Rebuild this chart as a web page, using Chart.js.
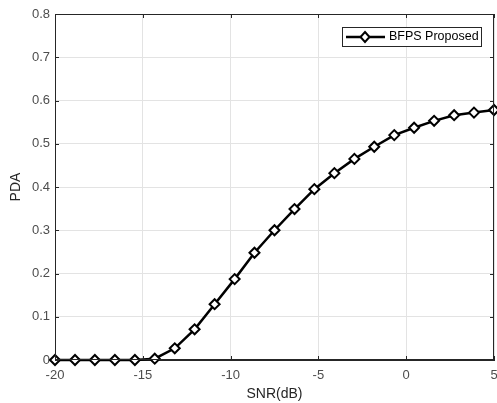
<!DOCTYPE html>
<html>
<head>
<meta charset="utf-8">
<script src="https://cdn.jsdelivr.net/npm/chart.js@4/dist/chart.umd.min.js"></script>
<style>
  html, body { margin: 0; padding: 0; background: #fff; }
  #wrap { width: 497px; height: 403px; }
</style>
</head>
<body>
<div id="wrap"><canvas id="pdaChart" width="497" height="403"></canvas></div>
<script>
// SNR points (dB) and detection probability
const snrValues = [-20, -18.86, -17.73, -16.59, -15.45, -14.32, -13.18, -12.05, -10.91, -9.77, -8.64, -7.5,
    -6.36, -5.23, -4.09, -2.95, -1.82, -0.68, 0.45, 1.59, 2.73, 3.86, 5];
const pdaValues = [0, 0, 0, 0, 0, 0.003, 0.027, 0.071, 0.129, 0.187, 0.248, 0.300,
    0.349, 0.395, 0.432, 0.465, 0.493, 0.520, 0.537, 0.553, 0.566, 0.572, 0.578];
const xTicks = [-20, -15, -10, -5, 0, 5];
const yTicks = [0, 0.1, 0.2, 0.3, 0.4, 0.5, 0.6, 0.7, 0.8];
const seriesName = "BFPS Proposed";

const points = snrValues.map((x, i) => ({ x: x, y: pdaValues[i] }));
const fontFam = "Arial, 'Liberation Sans', sans-serif";

// box, inward ticks and legend like a MATLAB figure
const matlabBox = {
    id: "matlabBox",
    afterDraw(chart) {
        const { ctx, chartArea: a, scales } = chart;
        ctx.save();
        ctx.strokeStyle = "#262626";
        ctx.lineWidth = 1;
        ctx.strokeRect(a.left + 0.5, a.top + 0.5, a.right - a.left - 1, a.bottom - a.top - 1);
        ctx.beginPath();
        xTicks.forEach(t => {
            const px = Math.round(scales.x.getPixelForValue(t)) + 0.5;
            ctx.moveTo(px, a.bottom); ctx.lineTo(px, a.bottom - 4);
            ctx.moveTo(px, a.top); ctx.lineTo(px, a.top + 4);
        });
        yTicks.forEach(t => {
            const py = Math.round(scales.y.getPixelForValue(t)) + 0.5;
            ctx.moveTo(a.left, py); ctx.lineTo(a.left + 4, py);
            ctx.moveTo(a.right, py); ctx.lineTo(a.right - 4, py);
        });
        ctx.stroke();

        // legend
        const lx = 342, ly = 27, lw = 139, lh = 19;
        ctx.fillStyle = "#fff";
        ctx.fillRect(lx, ly, lw, lh);
        ctx.strokeStyle = "#262626";
        ctx.strokeRect(lx + 0.5, ly + 0.5, lw, lh);
        const cy = ly + lh / 2 + 0.5;
        ctx.strokeStyle = "#000";
        ctx.lineWidth = 2.5;
        ctx.beginPath();
        ctx.moveTo(346, cy); ctx.lineTo(385, cy);
        ctx.stroke();
        ctx.lineWidth = 2;
        ctx.fillStyle = "#fff";
        ctx.beginPath();
        ctx.moveTo(365, cy - 5); ctx.lineTo(369.5, cy); ctx.lineTo(365, cy + 5); ctx.lineTo(360.5, cy);
        ctx.closePath();
        ctx.fill(); ctx.stroke();
        ctx.fillStyle = "#000";
        ctx.font = "12.5px " + fontFam;
        ctx.textBaseline = "middle";
        ctx.fillText(chart.data.datasets[0].label, 389, cy);
        ctx.restore();
    }
};

new Chart(document.getElementById("pdaChart").getContext("2d"), {
    type: "line",
    data: {
        datasets: [{
            label: seriesName,
            data: points,
            borderColor: "#000",
            borderWidth: 2.5,
            pointStyle: "rectRot",
            pointRadius: 5,
            pointBorderWidth: 2,
            pointBackgroundColor: "#fff",
            pointBorderColor: "#000",
            tension: 0,
            clip: false
        }]
    },
    options: {
        responsive: false,
        animation: false,
        layout: { autoPadding: false, padding: { left: 4, right: 3, top: 14, bottom: 0 } },
        plugins: {
            legend: { display: false },
            tooltip: { enabled: false }
        },
        scales: {
            x: {
                type: "linear",
                min: -20,
                max: 5,
                afterBuildTicks: s => { s.ticks = xTicks.map(v => ({ value: v })); },
                afterFit: s => { s.height = 43; s.paddingLeft = 0; s.paddingRight = 0; },
                grid: { color: "#e3e3e3", drawTicks: false },
                border: { color: "#262626" },
                ticks: {
                    color: "#4d4d4d",
                    padding: 8,
                    maxRotation: 0,
                    font: { family: fontFam, size: 13 }
                },
                title: {
                    display: true,
                    text: "SNR(dB)",
                    color: "#262626",
                    padding: { top: 1, bottom: 0 },
                    font: { family: fontFam, size: 14 }
                }
            },
            y: {
                min: 0,
                max: 0.8,
                afterBuildTicks: s => { s.ticks = yTicks.map(v => ({ value: v })); },
                afterFit: s => { s.width = 51; s.paddingTop = 0; s.paddingBottom = 0; },
                grid: { color: "#e3e3e3", drawTicks: false },
                border: { color: "#262626" },
                ticks: {
                    color: "#4d4d4d",
                    padding: 5,
                    font: { family: fontFam, size: 13 },
                    callback: v => (v === 0 ? "0" : v.toFixed(1))
                },
                title: {
                    display: true,
                    text: "PDA",
                    color: "#262626",
                    padding: { top: 4, bottom: 0 },
                    font: { family: fontFam, size: 14 }
                }
            }
        }
    },
    plugins: [matlabBox]
});
</script>
</body>
</html>
